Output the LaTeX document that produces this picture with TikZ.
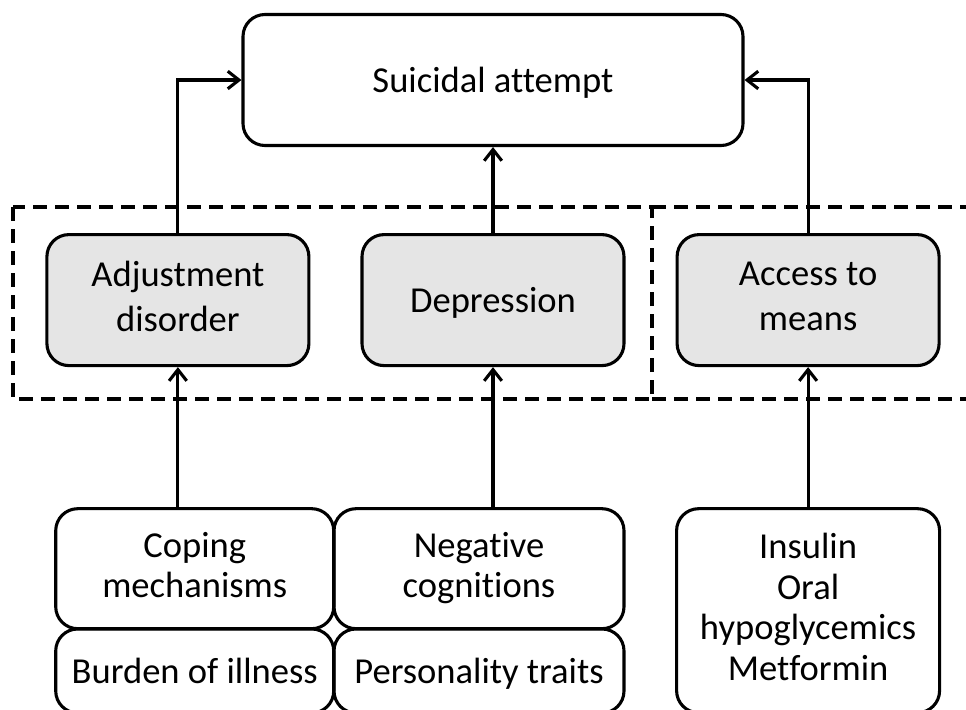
\documentclass[tikz,border=0pt]{standalone}
\usepackage{fontspec}
\setmainfont[Ligatures={NoCommon}]{Carlito}
\usepackage{tikz}
\usetikzlibrary{positioning}
\usetikzlibrary{arrows.meta}

\newcommand{\boxstrut}{\rule[-5.5pt]{0pt}{29pt}}

\tikzset{
  box/.style={draw, rounded corners=0.55cm, align=center, inner sep=0pt,
    font=\fontsize{26pt}{29pt}\selectfont,
    execute at begin node={\boxstrut}, execute at end node={\boxstrut}},
  greybox/.style={box, fill=black!10, minimum width=6.55cm, minimum height=3.275cm,
    font=\fontsize{26pt}{31.5pt}\selectfont},
  frame/.style={dashed, dash pattern=on 0.35cm off 0.2cm},
  elbow/.style={to path={|- (\tikztotarget)}}
}

\begin{document}
\begin{tikzpicture}[>={Straight Barb[length=2.8mm,width=4.4mm]},line width=2.2pt,auto]
      \useasboundingbox (0,0) rectangle (24.15,-17.75);
      \node[box, minimum width=12.5cm, minimum height=3.275cm] (attempt) at (12.325,-2.0) {Suicidal attempt};
      \node[greybox, below=2.15cm of attempt] (depress) {Depression};
      \node[greybox, left=1.25cm of depress] (adjust) {Adjustment\\disorder};
      \node[greybox, right=1.25cm of depress] (access) {Access to\\means};
      \node[box, minimum width=7.25cm, minimum height=3.0cm,
        below=3.5cm of depress.south east, anchor=north east] (negcog) {Negative\\cognitions};
      \node[box, minimum width=6.95cm, minimum height=3.0cm, left=-2pt of negcog] (coping) {Coping\\mechanisms};
      \node[box, minimum width=6.95cm, minimum height=2.1cm, below=-2pt of coping] (burden) {Burden of illness};
      \node[box, minimum width=7.25cm, minimum height=2.1cm, below=-2pt of negcog] (traits) {Personality traits};
      \node[box, minimum width=6.575cm, minimum height=5.1cm, below=3.5cm of access] (drugs) {Insulin\\Oral\\hypoglycemics\\Metformin};
      % dashed groups
      \draw[frame] (0.325,-5.175) rectangle (16.3,-9.975);
      \draw[frame] (16.3,-5.175) -- (24.6,-5.175) (16.3,-9.975) -- (24.6,-9.975);
      \path[->] (adjust) edge[elbow] (attempt)
      (access) edge[elbow] (attempt)
      (depress) edge (attempt)
      (adjust |- coping.north) edge (adjust)
      (depress |- negcog.north) edge (depress)
      (drugs) edge (access);
    \end{tikzpicture}
\end{document}
